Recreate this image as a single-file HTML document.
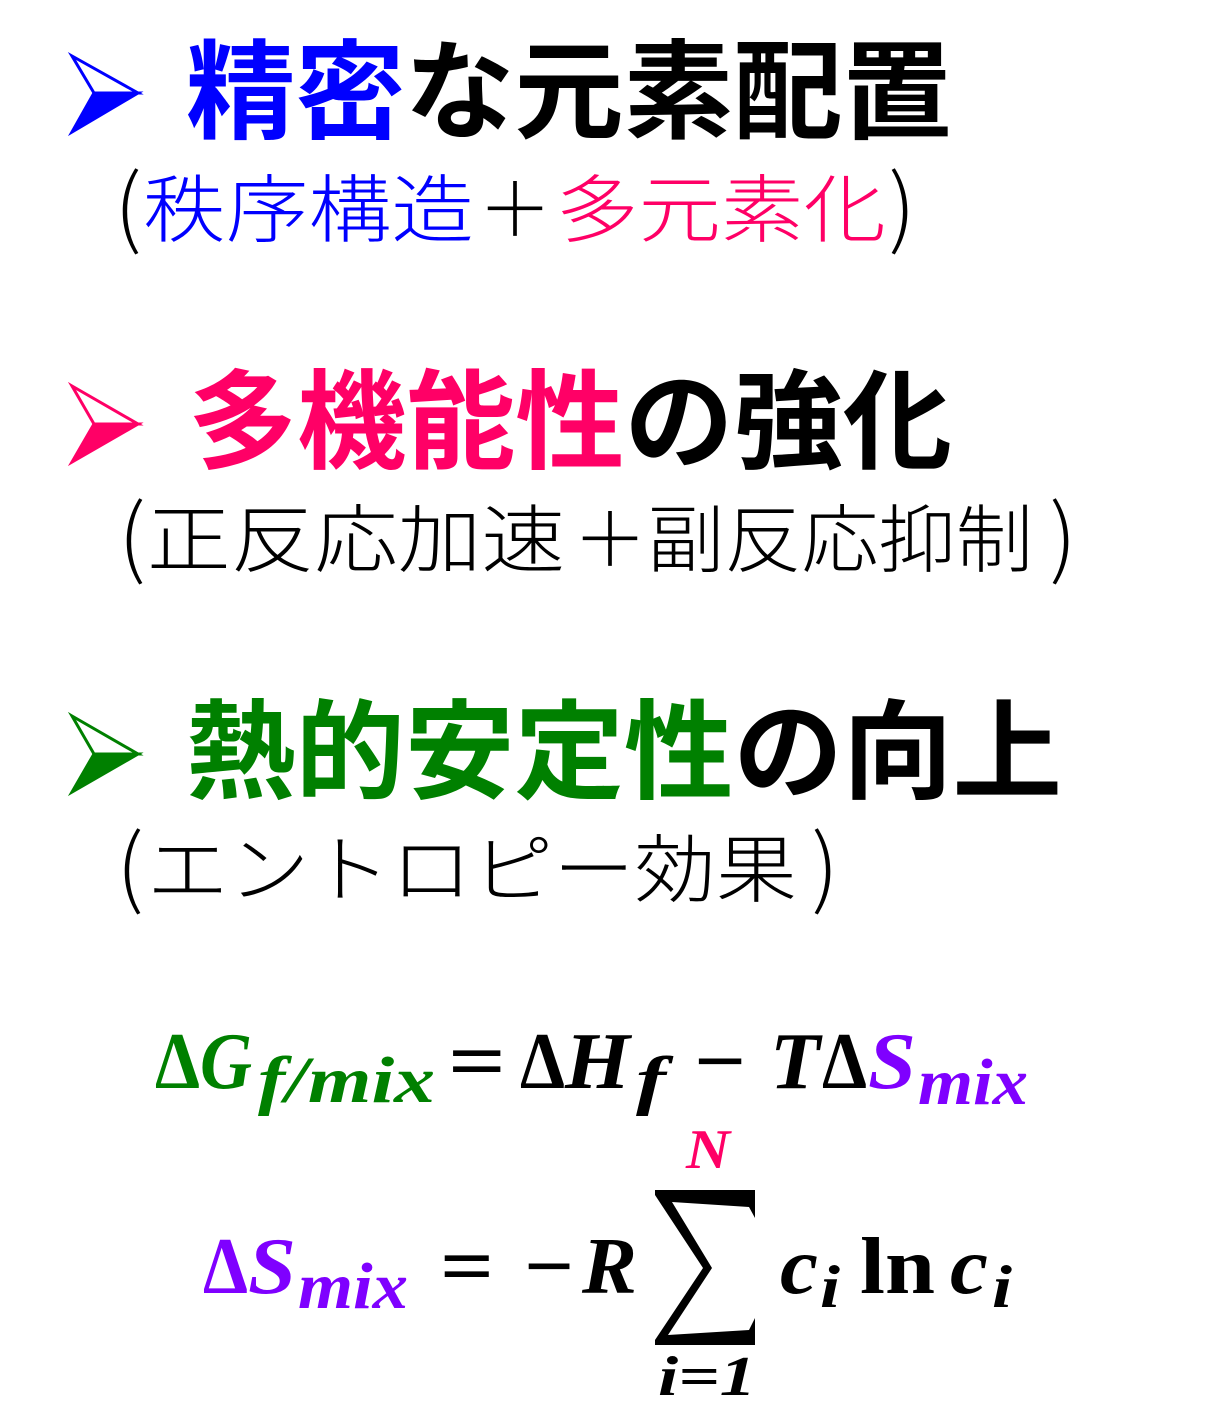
<!DOCTYPE html>
<html><head><meta charset="utf-8">
<style>
html,body{margin:0;padding:0;background:#fff;}
svg{display:block;}
.h{font-family:"Noto Sans CJK JP","Liberation Sans",sans-serif;font-weight:700;font-size:108px;}
.s{font-family:"Noto Sans CJK JP","Liberation Sans",sans-serif;font-weight:300;font-size:74px;}
.p{font-family:"Noto Sans CJK JP","Liberation Sans",sans-serif;font-weight:300;font-size:86px;}
.m{font-family:"Liberation Serif","DejaVu Serif",serif;font-weight:700;font-style:italic;}
.u{font-family:"Liberation Serif","DejaVu Serif",serif;font-weight:700;}
</style></head>
<body>
<svg width="1219" height="1419" viewBox="0 0 1219 1419" xmlns="http://www.w3.org/2000/svg">
<g stroke-width="3" stroke-linejoin="miter">
  <polygon points="72,56 138,93 94,93" fill="#fff" stroke="#0000ff"/>
  <polygon points="94,93 138,93 72,132" fill="#0000ff" stroke="#0000ff"/>
  <polygon points="72,386 138,424 94,424" fill="#fff" stroke="#ff0066"/>
  <polygon points="94,424 138,424 72,462" fill="#ff0066" stroke="#ff0066"/>
  <polygon points="72,716 138,754 94,754" fill="#fff" stroke="#008000"/>
  <polygon points="94,754 138,754 72,792" fill="#008000" stroke="#008000"/>
</g>
<text class="h" x="186" y="130" textLength="766" lengthAdjust="spacingAndGlyphs"><tspan fill="#0000ff">精密</tspan><tspan fill="#000">な元素配置</tspan></text>
<text class="p" x="128" y="238" text-anchor="middle">(</text>
<text class="s" x="143" y="236" textLength="331" lengthAdjust="spacingAndGlyphs" fill="#0000ff">秩序構造</text>
<text class="s" x="478" y="236" textLength="74" lengthAdjust="spacingAndGlyphs" fill="#000">＋</text>
<text class="s" x="556" y="236" textLength="330" lengthAdjust="spacingAndGlyphs" fill="#ff0066">多元素化</text>
<text class="p" x="902" y="238" text-anchor="middle">)</text>

<text class="h" x="188" y="460" textLength="764" lengthAdjust="spacingAndGlyphs"><tspan fill="#ff0066">多機能性</tspan><tspan fill="#000">の強化</tspan></text>
<text class="p" x="132" y="568" text-anchor="middle">(</text>
<text class="s" x="147" y="566" textLength="418" lengthAdjust="spacingAndGlyphs">正反応加速</text>
<text class="s" x="573" y="566" textLength="74" lengthAdjust="spacingAndGlyphs">＋</text>
<text class="s" x="647" y="566" textLength="386" lengthAdjust="spacingAndGlyphs">副反応抑制</text>
<text class="p" x="1063" y="568" text-anchor="middle">)</text>

<text class="h" x="186" y="790" textLength="876" lengthAdjust="spacingAndGlyphs"><tspan fill="#008000">熱的安定性</tspan><tspan fill="#000">の向上</tspan></text>
<text class="p" x="130" y="898" text-anchor="middle">(</text>
<text class="s" x="147" y="896" textLength="650" lengthAdjust="spacingAndGlyphs">エントロピー効果</text>
<text class="p" x="825" y="898" text-anchor="middle">)</text>

<text class="u" x="155" y="1088" font-size="80" fill="#008000" textLength="45" lengthAdjust="spacingAndGlyphs">Δ</text>
<text class="m" x="200" y="1088" font-size="80" fill="#008000" textLength="52" lengthAdjust="spacingAndGlyphs">G</text>
<text class="m" x="258" y="1102" font-size="66" fill="#008000" textLength="177" lengthAdjust="spacingAndGlyphs">f/mix</text>
<text class="u" x="448" y="1088" font-size="80" fill="#000" textLength="58" lengthAdjust="spacingAndGlyphs">=</text>
<text class="u" x="520" y="1088" font-size="80" fill="#000" textLength="45" lengthAdjust="spacingAndGlyphs">Δ</text>
<text class="m" x="565" y="1088" font-size="80" fill="#000" textLength="65" lengthAdjust="spacingAndGlyphs">H</text>
<text class="m" x="636" y="1102" font-size="66" fill="#000" textLength="30" lengthAdjust="spacingAndGlyphs">f</text>
<text class="u" x="694" y="1088" font-size="80" fill="#000" textLength="52" lengthAdjust="spacingAndGlyphs">−</text>
<text class="m" x="770" y="1088" font-size="80" fill="#000" textLength="50" lengthAdjust="spacingAndGlyphs">T</text>
<text class="u" x="822" y="1088" font-size="80" fill="#000" textLength="45" lengthAdjust="spacingAndGlyphs">Δ</text>
<text class="m" x="868" y="1088" font-size="80" fill="#7f00ff" textLength="48" lengthAdjust="spacingAndGlyphs">S</text>
<text class="m" x="918" y="1104" font-size="66" fill="#7f00ff" textLength="110" lengthAdjust="spacingAndGlyphs">mix</text>

<text class="u" x="203" y="1293" font-size="80" fill="#7f00ff" textLength="45" lengthAdjust="spacingAndGlyphs">Δ</text>
<text class="m" x="248" y="1293" font-size="80" fill="#7f00ff" textLength="48" lengthAdjust="spacingAndGlyphs">S</text>
<text class="m" x="298" y="1308" font-size="66" fill="#7f00ff" textLength="110" lengthAdjust="spacingAndGlyphs">mix</text>
<text class="u" x="440" y="1293" font-size="80" fill="#000" textLength="54" lengthAdjust="spacingAndGlyphs">=</text>
<text class="u" x="524" y="1293" font-size="80" fill="#000" textLength="50" lengthAdjust="spacingAndGlyphs">−</text>
<text class="m" x="582" y="1293" font-size="80" fill="#000" textLength="55" lengthAdjust="spacingAndGlyphs">R</text>
<polygon points="655,1190 755,1190 755,1218 749,1207 672,1202 712,1268 668,1335 749,1330 755,1318 755,1345 655,1345 655,1340 703,1268 655,1195" fill="#000"/>
<text class="m" x="686" y="1168" font-size="56" fill="#ff0066" textLength="44" lengthAdjust="spacingAndGlyphs">N</text>
<text class="m" x="658" y="1395" font-size="56" fill="#000" textLength="98" lengthAdjust="spacingAndGlyphs">i=1</text>
<text class="m" x="780" y="1293" font-size="80" fill="#000" textLength="38" lengthAdjust="spacingAndGlyphs">c</text>
<text class="m" x="820" y="1307" font-size="60" fill="#000" textLength="20" lengthAdjust="spacingAndGlyphs">i</text>
<text class="u" x="860" y="1293" font-size="80" fill="#000" textLength="75" lengthAdjust="spacingAndGlyphs">ln</text>
<text class="m" x="950" y="1293" font-size="80" fill="#000" textLength="38" lengthAdjust="spacingAndGlyphs">c</text>
<text class="m" x="992" y="1307" font-size="60" fill="#000" textLength="20" lengthAdjust="spacingAndGlyphs">i</text>
</svg>
</body></html>
